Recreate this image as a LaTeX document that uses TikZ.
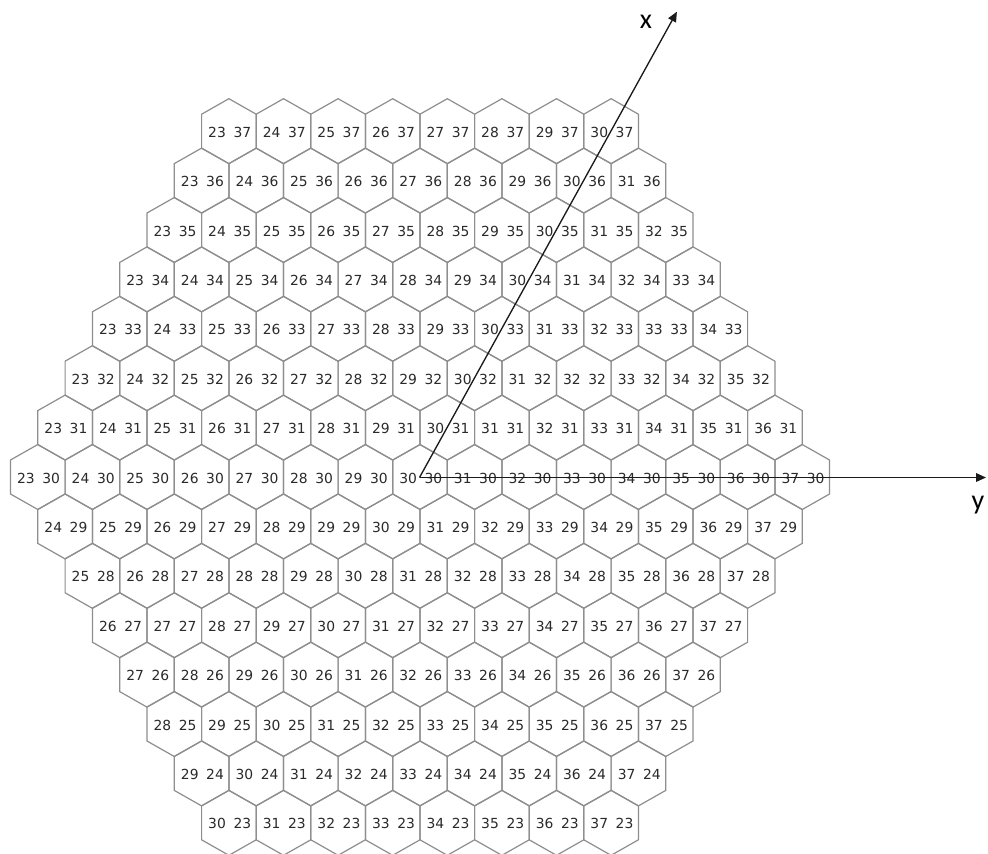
\documentclass[tikz,border=0pt]{standalone}
\usepackage{fontspec}
\setmainfont{DejaVu Sans}
\newfontfamily\axisfont{Carlito}
\usetikzlibrary{arrows.meta}
\definecolor{hexline}{HTML}{8E8E8E}
\definecolor{numtext}{HTML}{2A2A2A}
\definecolor{axisline}{HTML}{1A1A1A}
\tikzset{
  hexcell/.style={draw=hexline, line width=0.9pt},
  hexlabel/.style={inner sep=0pt, font=\fontsize{10.4}{12}\selectfont, text=numtext},
  axisarrow/.style={draw=axisline, line width=1pt, -{Triangle[length=7.5pt,width=6.5pt]}},
  axislabel/.style={inner sep=0pt, font=\axisfont\fontsize{21}{24}\selectfont, text=black}
}
\begin{document}
\begin{tikzpicture}[x=0.75pt,y=-0.75pt]
\useasboundingbox (0,0) rectangle (988,853);
\clip (0,0) rectangle (988,853);
\fill[white] (0,0) rectangle (988,853);
\foreach \j in {23,...,37}{
  \pgfmathtruncatemacro{\imin}{max(23,53-\j)}
  \pgfmathtruncatemacro{\imax}{min(37,67-\j)}
  \foreach \i in {\imin,...,\imax}{
    \pgfmathsetmacro{\cx}{420+(\i-30)*54.6+(\j-30)*27.3}
    \pgfmathsetmacro{\cy}{477-(\j-30)*49.4}
    \draw[hexcell] (\cx,\cy) ++(0,-32.5) -- ++(27.3,15.5) -- ++(0,34) -- ++(-27.3,15.5) -- ++(-27.3,-15.5) -- ++(0,-34) -- cycle;
    \node[hexlabel] (h-\i-\j) at (\cx+0.8,\cy+1) {\i\hspace{0.55em}\j};
  }
}
\coordinate (O) at (419.5,477.5);
\coordinate (ytip) at (986,477.5);
\coordinate (xtip) at (676.9,11.7);
\draw[axisarrow] (O) -- (xtip);
\draw[axisarrow] (O) -- (ytip);
\node[axislabel] (xl) at (646,22) {x};
\node[axislabel] (yl) at (978,505) {y};
\end{tikzpicture}
\end{document}
